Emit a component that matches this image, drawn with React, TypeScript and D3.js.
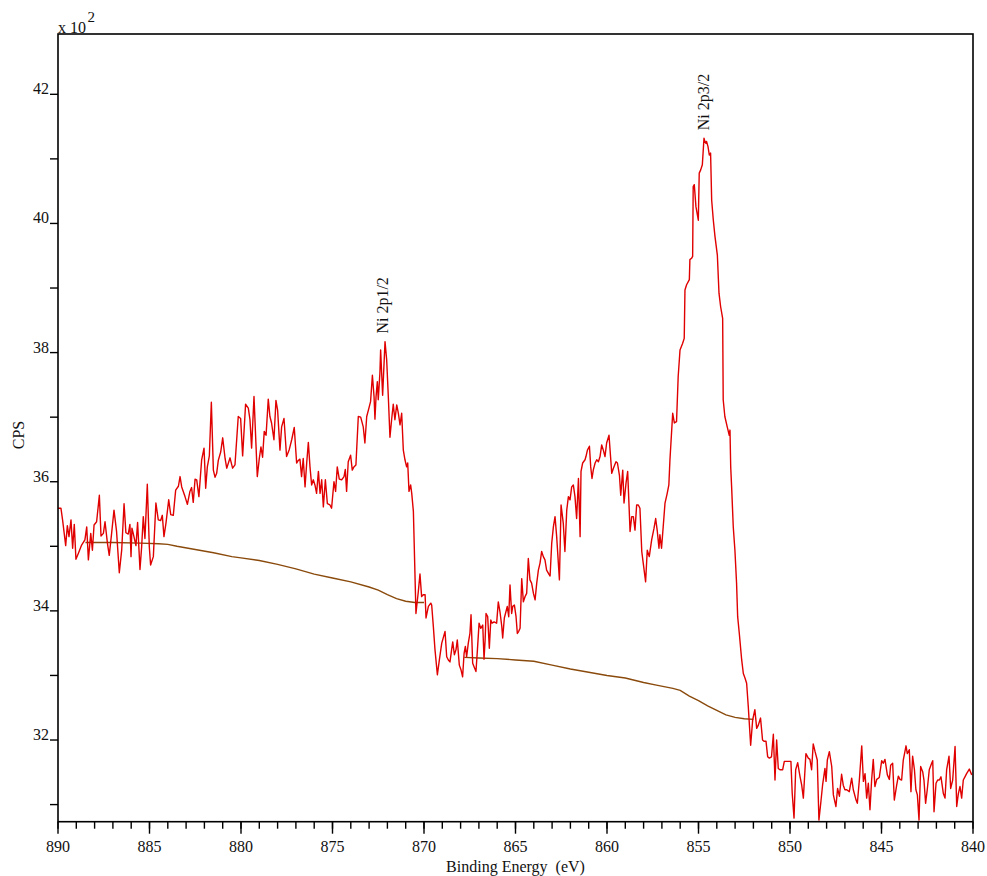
import React from "react";
import * as d3 from "d3";

// Ni 2p XPS spectrum: [binding energy (eV), counts per second]
const spectrum: [number, number][] = [
  [890.0,3559],[889.84,3559],[889.75,3541],[889.58,3501],[889.49,3532],[889.40,3515],[889.29,3541],[889.20,3497],[889.11,3534],[889.02,3480],[888.89,3489],[888.71,3502],[888.53,3510],[888.43,3530],[888.34,3479],[888.21,3520],[888.12,3494],[888.03,3533],[887.89,3538],[887.74,3579],[887.65,3516],[887.52,3520],[887.43,3538],[887.30,3505],[887.20,3486],[887.07,3520],[886.94,3556],[886.80,3523],[886.65,3459],[886.52,3494],[886.39,3566],[886.29,3521],[886.16,3519],[886.07,3534],[886.01,3484],[885.96,3528],[885.89,3520],[885.74,3501],[885.65,3537],[885.52,3464],[885.43,3499],[885.34,3546],[885.25,3512],[885.12,3596],[885.01,3499],[884.94,3471],[884.79,3484],[884.65,3567],[884.52,3541],[884.39,3540],[884.30,3548],[884.21,3515],[884.10,3536],[883.95,3572],[883.84,3549],[883.70,3548],[883.57,3587],[883.42,3593],[883.33,3608],[883.24,3592],[883.06,3577],[882.93,3565],[882.79,3585],[882.70,3591],[882.61,3568],[882.51,3604],[882.42,3603],[882.30,3577],[882.15,3634],[882.02,3652],[881.93,3590],[881.84,3623],[881.73,3640],[881.62,3723],[881.51,3618],[881.42,3607],[881.33,3613],[881.24,3633],[881.11,3646],[881.00,3668],[880.87,3636],[880.78,3621],[880.60,3637],[880.46,3621],[880.33,3626],[880.15,3701],
  [880.02,3698],[879.91,3640],[879.75,3720],[879.60,3714],[879.51,3696],[879.42,3652],[879.29,3732],[879.11,3608],[879.00,3636],[878.91,3654],[878.82,3638],[878.73,3678],[878.63,3672],[878.51,3728],[878.42,3701],[878.33,3691],[878.20,3665],[878.09,3726],[878.00,3711],[877.87,3649],[877.78,3685],[877.65,3698],[877.51,3639],[877.36,3650],[877.23,3665],[877.09,3684],[876.96,3629],[876.87,3633],[876.78,3635],[876.69,3608],[876.60,3636],[876.50,3592],[876.41,3629],[876.32,3661],[876.23,3623],[876.14,3595],[876.05,3603],[875.96,3595],[875.87,3582],[875.77,3616],[875.68,3582],[875.59,3603],[875.50,3561],[875.39,3603],[875.28,3566],[875.14,3564],[875.05,3559],[874.92,3600],[874.83,3585],[874.74,3623],[874.63,3604],[874.50,3603],[874.37,3608],[874.30,3619],[874.23,3585],[874.14,3631],[874.01,3641],[873.92,3618],[873.83,3623],[873.72,3626],[873.59,3701],[873.46,3700],[873.32,3685],[873.23,3660],[873.13,3701],[873.01,3714],[872.92,3724],[872.82,3765],[872.73,3732],[872.68,3697],[872.62,3732],[872.55,3755],[872.50,3727],[872.41,3768],[872.37,3804],[872.26,3734],[872.13,3817],[872.04,3789],[871.95,3732],[871.86,3669],[871.77,3696],[871.68,3720],[871.59,3696],[871.49,3719],[871.40,3706],[871.31,3688],[871.22,3706],[871.13,3649],[871.04,3634],[870.95,3623],[870.89,3629],[870.82,3585],[870.73,3595],[870.67,3582],[870.58,3554],
  [870.44,3396],[870.31,3430],[870.22,3457],[870.13,3422],[870.04,3425],[869.94,3425],[869.89,3389],[869.76,3407],[869.63,3412],[869.58,3409],[869.49,3376],[869.40,3340],[869.27,3301],[869.16,3324],[869.03,3350],[868.85,3368],[868.76,3329],[868.67,3324],[868.58,3321],[868.49,3340],[868.43,3352],[868.34,3332],[868.25,3340],[868.18,3355],[868.07,3316],[867.98,3309],[867.89,3298],[867.81,3334],[867.74,3345],[867.67,3329],[867.58,3350],[867.49,3365],[867.43,3394],[867.34,3319],[867.27,3314],[867.16,3306],[867.08,3340],[866.99,3381],[866.90,3373],[866.79,3378],[866.72,3325],[866.66,3355],[866.61,3396],[866.52,3391],[866.43,3342],[866.35,3386],[866.28,3381],[866.17,3383],[866.03,3381],[865.94,3414],[865.85,3399],[865.75,3376],[865.70,3358],[865.61,3389],[865.52,3399],[865.45,3407],[865.37,3391],[865.30,3440],[865.21,3396],[865.15,3407],[865.06,3409],[864.97,3391],[864.90,3365],[864.83,3368],[864.75,3373],[864.66,3450],[864.57,3414],[864.48,3422],[864.39,3427],[864.30,3481],[864.21,3448],[864.12,3443],[864.02,3427],[863.93,3417],[863.84,3443],[863.75,3463],[863.66,3474],[863.57,3492],[863.48,3484],[863.39,3479],[863.30,3463],[863.20,3458],[863.11,3454],[863.02,3505],[862.93,3530],[862.84,3546],[862.75,3515],[862.60,3448],[862.51,3564],[862.39,3536],[862.30,3492],[862.20,3556],[862.11,3577],[862.02,3572],[861.93,3592],[861.84,3595],[861.75,3577],[861.66,3543],[861.56,3605],[861.47,3515],[861.42,3616],[861.33,3629],[861.20,3634],[861.15,3639],[861.07,3649],[860.96,3655],[860.89,3623],[860.82,3605],[860.75,3618],[860.65,3629],[860.56,3634],[860.47,3631],[860.38,3639],[860.29,3657],[860.20,3649],[860.11,3639],[860.02,3660],[859.89,3672],[859.74,3613],[859.65,3621],[859.51,3631],[859.43,3629],[859.32,3610],[859.25,3579],[859.14,3618],[859.07,3567],[858.96,3598],[858.87,3616],[858.74,3523],[858.65,3546],[858.56,3546],[858.47,3525],[858.38,3564],[858.29,3564],[858.20,3559],[858.10,3492],[858.02,3474],[857.89,3445],[857.80,3494],[857.69,3484],
  [857.56,3510],[857.43,3528],[857.34,3543],[857.25,3523],[857.16,3497],[857.11,3518],[857.02,3497],[856.93,3530],[856.83,3567],[856.71,3582],[856.62,3595],[856.56,3634],
  [856.41,3706],[856.32,3691],[856.20,3693],[856.11,3763],[856.01,3804],[855.87,3814],[855.78,3822],[855.74,3897],[855.65,3905],[855.50,3913],[855.47,3944],[855.38,3946],[855.32,3949],[855.29,4057],[855.23,4060],[855.14,4026],[855.01,4005],[854.96,4078],[854.88,4083],[854.79,4091],[854.70,4132],[854.65,4127],[854.59,4124],[854.56,4127],[854.48,4119],[854.41,4106],[854.34,4109],[854.28,4036],[854.19,4005],[854.10,3980],[853.97,3951],[853.88,3892],[853.79,3871],[853.68,3853],[853.65,3727],[853.56,3701],[853.43,3685],[853.32,3672],[853.28,3680],[853.24,3623],
  [853.19,3592],[853.10,3530],[853.01,3494],[852.92,3443],[852.86,3391],[852.77,3365],[852.64,3324],[852.55,3303],[852.46,3296],[852.37,3288],[852.28,3252],[852.15,3192],[852.04,3231],[851.92,3247],[851.82,3218],[851.73,3223],[851.61,3234],[851.50,3200],[851.42,3198],[851.31,3198],[851.22,3174],[851.13,3172],[851.01,3174],[850.91,3209],[850.82,3138],[850.73,3200],[850.64,3156],[850.55,3154],[850.40,3154],[850.31,3167],[850.19,3167],[850.04,3167],[849.95,3167],[849.88,3118],[849.78,3079],[849.69,3154],[849.58,3165],
  [849.45,3143],[849.36,3130],[849.27,3110],[849.13,3179],[849.00,3172],[848.91,3170],[848.82,3154],[848.73,3194],[848.63,3182],[848.51,3169],[848.42,3076],[848.32,3102],[848.22,3130],[848.09,3156],[848.03,3136],[847.96,3169],[847.85,3182],[847.72,3159],[847.63,3115],[847.49,3097],[847.40,3125],[847.30,3113],[847.18,3147],[847.09,3130],[847.00,3123],[846.90,3123],[846.76,3120],[846.63,3141],[846.54,3123],[846.39,3107],[846.32,3102],[846.21,3138],[846.08,3191],[845.99,3136],[845.90,3148],[845.81,3110],[845.72,3133],[845.63,3092],[845.54,3138],[845.45,3170],[845.36,3128],[845.26,3139],[845.12,3142],[844.99,3168],[844.90,3164],[844.81,3170],[844.68,3146],[844.57,3139],[844.50,3161],[844.39,3164],[844.30,3107],[844.17,3130],[844.08,3144],[843.99,3139],[843.90,3138],[843.81,3169],[843.66,3191],[843.59,3179],[843.48,3185],[843.39,3120],[843.30,3175],[843.20,3154],[843.12,3123],[843.04,3115],[842.95,3076],[842.86,3159],[842.75,3151],[842.68,3138],[842.59,3102],[842.50,3123],[842.39,3154],[842.26,3164],[842.20,3168],[842.13,3089],[842.02,3133],[841.93,3138],[841.84,3138],[841.75,3143],[841.62,3117],[841.53,3110],[841.44,3154],[841.31,3175],[841.22,3125],[841.11,3138],[840.98,3190],[840.89,3097],[840.80,3117],[840.71,3128],[840.62,3110],[840.53,3138],[840.44,3143],[840.35,3148],[840.20,3155],[840.07,3146],
];

// Shirley backgrounds under the 2p1/2 and 2p3/2 regions
const background2p12: [number, number][] = [
  [888.5,3506],[887,3506],[885.5,3505],[884.5,3504],[884,3503],[883.5,3500],[882.5,3495],[881.5,3490],[880.5,3484],[880,3482],[879,3478],[878,3472],[877,3465],[876,3457],[875,3451],[874,3445],[873,3437],[872.5,3432],[872,3425],[871.5,3419],[871,3415],[870.5,3413],[870.0,3413],
];
const background2p32: [number, number][] = [
  [867.8,3328],[867,3327],[866,3326],[865,3324],[864,3322],[863,3316],[862,3310],[861,3305],[860,3300],[859,3296],[858,3289],[857.3,3285],[856.4,3280],[856,3277],[855.5,3268],[855,3261],[854.5,3253],[854,3246],[853.5,3239],[853,3235],[852.5,3233],[852,3232],
];

const peakLabels = [
  { text: "Ni 2p1/2", energy: 871.97, cps: 3817 },
  { text: "Ni 2p3/2", energy: 854.45, cps: 4132 },
];

const xMajorTicks = [890, 885, 880, 875, 870, 865, 860, 855, 850, 845, 840];
const xMinorTicks = d3.range(840, 891, 1);
const yLabelTicks = [3200, 3400, 3600, 3800, 4000, 4200];
const yAllTicks = [3100, 3200, 3300, 3400, 3500, 3600, 3700, 3800, 3900, 4000, 4100, 4200];

const W = 987;
const H = 876;
const left = 58;
const right = 973;
const top = 34;
const bottom = 821.7;

export default function App() {
  const x = d3.scaleLinear().domain([890, 840]).range([left, right]);
  const y = d3.scaleLinear().domain([3073.5, 4293.4]).range([bottom, top]);
  const line = d3
    .line<[number, number]>()
    .x((d) => x(d[0]))
    .y((d) => y(d[1]));

  return (
    <svg
      width={W}
      height={H}
      style={{ position: "absolute", left: 0, top: 0, background: "#fff", fontFamily: "'Liberation Serif', 'Times New Roman', serif" }}
    >
      <rect x={0} y={0} width={W} height={H} fill="#fff" />

      <path d={line(background2p12) || ""} fill="none" stroke="#8a4a0c" strokeWidth={1.4} />
      <path d={line(background2p32) || ""} fill="none" stroke="#8a4a0c" strokeWidth={1.4} />
      <path d={line(spectrum) || ""} fill="none" stroke="#e00000" strokeWidth={1.4} strokeLinejoin="round" />

      {/* frame */}
      <rect x={left} y={top} width={right - left} height={bottom - top} fill="none" stroke="#000" strokeWidth={1.6} />

      {/* x axis ticks */}
      {xMinorTicks.map((t) => (
        <line key={"xm" + t} x1={x(t)} x2={x(t)} y1={bottom} y2={bottom + 7} stroke="#000" strokeWidth={1.4} />
      ))}
      {xMajorTicks.map((t) => (
        <g key={"xM" + t}>
          <line x1={x(t)} x2={x(t)} y1={bottom} y2={bottom + 12} stroke="#000" strokeWidth={1.4} />
          <text x={x(t)} y={851.5} textAnchor="middle" fontSize={16} fill="#111">
            {t}
          </text>
        </g>
      ))}

      {/* y axis ticks */}
      {yAllTicks.map((t) => (
        <line key={"y" + t} x1={left - 8} x2={left} y1={y(t)} y2={y(t)} stroke="#000" strokeWidth={1.4} />
      ))}
      {yLabelTicks.map((t) => (
        <text key={"yl" + t} x={49} y={y(t)} textAnchor="end" fontSize={16} fill="#111">
          {t / 100}
        </text>
      ))}

      {/* scale factor */}
      <text x={58} y={32.5} fontSize={16} fill="#111">
        x 10
      </text>
      <text x={87.5} y={21.5} fontSize={15} fill="#111">
        2
      </text>

      {/* axis titles */}
      <text x={(left + right) / 2} y={871.5} textAnchor="middle" fontSize={16} fill="#111" style={{ whiteSpace: "pre" }}>
        {"Binding Energy  (eV)"}
      </text>
      <text transform="translate(23.5,435) rotate(-90)" textAnchor="middle" fontSize={16} fill="#111">
        CPS
      </text>

      {/* peak labels */}
      {peakLabels.map((p) => (
        <text
          key={p.text}
          transform={`translate(${x(p.energy)},${y(p.cps) - 8}) rotate(-90)`}
          fontSize={16}
          fill="#111"
        >
          {p.text}
        </text>
      ))}
    </svg>
  );
}
